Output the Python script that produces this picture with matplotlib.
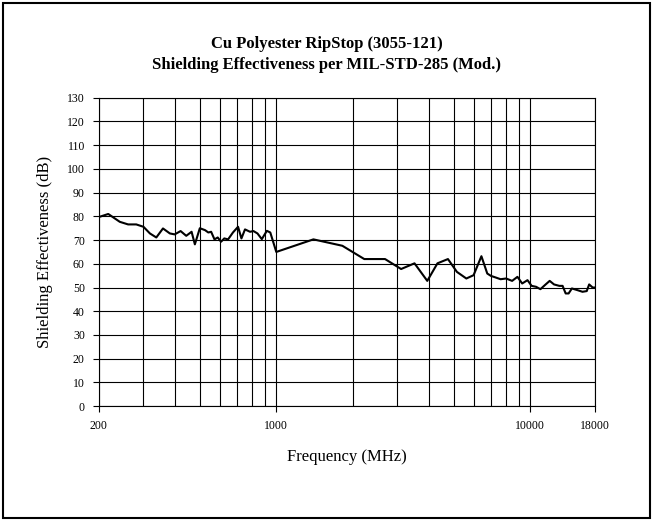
import matplotlib
matplotlib.use("Agg")
import matplotlib.pyplot as plt
from matplotlib.patches import Rectangle
from matplotlib.ticker import FixedLocator, NullFormatter

plt.rcParams['font.family'] = ['Liberation Serif', 'DejaVu Serif']

freq_mhz = [200, 218, 242, 261, 281, 300, 318, 337, 358, 381, 398, 420, 442, 464, 478,
            500, 524, 540, 554, 571, 588, 606, 624, 646, 675, 707, 729, 753, 788, 813,
            843, 877, 918, 947, 1000, 1400, 1820, 2220, 2680, 3100, 3500, 3930, 4310,
            4740, 5140, 5600, 5980, 6420, 6770, 7000, 7320, 7640, 8030, 8480, 8900,
            9290, 9750, 10120, 10540, 10960, 11410, 11920, 12400, 13010, 13400, 13780,
            14150, 14580, 15330, 16050, 16680, 17050, 17600, 18000]
se_db = [79.7, 81.0, 77.7, 76.6, 76.6, 75.6, 72.8, 71.1, 74.9, 72.8, 72.4, 73.8, 71.8,
         73.5, 68.2, 75.0, 74.2, 73.2, 73.5, 70.3, 71.1, 69.3, 70.7, 70.3, 73.2, 75.6,
         70.7, 74.5, 73.5, 73.8, 72.8, 70.4, 73.9, 73.2, 65.0, 70.3, 67.6, 62.0, 62.0,
         57.8, 60.2, 52.8, 60.2, 62.0, 56.6, 53.8, 55.2, 63.2, 55.9, 54.9, 54.2, 53.5,
         53.8, 52.8, 54.5, 51.7, 53.1, 50.7, 50.3, 49.3, 51.0, 52.8, 51.3, 50.7, 50.7,
         47.5, 47.5, 49.6, 48.9, 48.2, 48.5, 51.3, 50.0, 50.0]

major_ticks = [200, 1000, 10000, 18000]
major_labels = ['200', '1000', '10000', '18000']
minor_ticks = [300, 400, 500, 600, 700, 800, 900,
               2000, 3000, 4000, 5000, 6000, 7000, 8000, 9000]

fig = plt.figure(figsize=(6.54, 5.20), dpi=100)
ax = fig.add_axes([0.151, 0.219, 0.759, 0.593])

ax.plot(freq_mhz, se_db, color='black', lw=1.5, zorder=3)

ax.set_xscale('log')
ax.set_xlim(200, 18000)
ax.set_ylim(0, 130)
ax.xaxis.set_major_locator(FixedLocator(major_ticks))
ax.set_xticklabels(major_labels)
ax.xaxis.set_minor_locator(FixedLocator(minor_ticks))
ax.xaxis.set_minor_formatter(NullFormatter())
ax.set_yticks(range(0, 131, 10))

ax.grid(True, which='major', color='black', lw=0.8)
ax.grid(True, which='minor', axis='x', color='black', lw=0.8)
ax.tick_params(axis='both', which='major', direction='out', length=4, width=0.8,
               labelsize=8.5, pad=6)
ax.tick_params(axis='x', which='minor', length=0)
for s in ax.spines.values():
    s.set_color('black')
    s.set_linewidth(0.8)

ax.set_xlabel('Frequency (MHz)', fontsize=12, labelpad=12)
ax.set_ylabel('Shielding Effectiveness (dB)', fontsize=12, labelpad=10)

fig.text(0.5, 0.915, 'Cu Polyester RipStop (3055-121)', ha='center', va='center',
         fontsize=12, fontweight='bold')
fig.text(0.5, 0.875, 'Shielding Effectiveness per MIL-STD-285 (Mod.)', ha='center',
         va='center', fontsize=12, fontweight='bold')

fig.patches.append(Rectangle((0.004, 0.004), 0.99, 0.99, transform=fig.transFigure,
                             fill=False, edgecolor='black', lw=1.5))

fig.savefig('out.png', dpi=100)
